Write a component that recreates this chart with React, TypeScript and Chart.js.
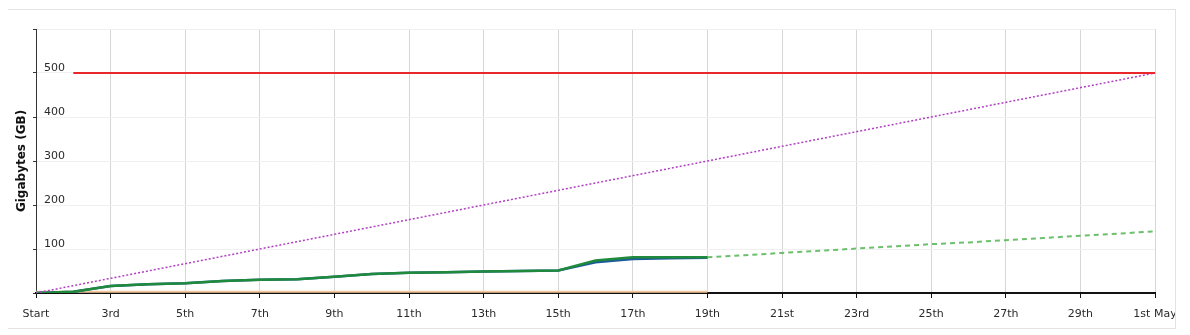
import React, { useEffect, useRef } from "react";
import { Chart, registerables } from "chart.js";

Chart.register(...registerables);

const categories = [
  "Start", "2nd", "3rd", "4th", "5th", "6th", "7th", "8th", "9th", "10th",
  "11th", "12th", "13th", "14th", "15th", "16th", "17th", "18th", "19th", "20th",
  "21st", "22nd", "23rd", "24th", "25th", "26th", "27th", "28th", "29th", "30th",
  "1st May",
];

const N = null;

const usageGreen = [0, 3, 16, 20, 22, 27, 30, 31, 37, 43, 46, 47, 49, 50, 51, 74, 81, 81, 81,
  N, N, N, N, N, N, N, N, N, N, N, N];
const usageBlue = [0, 3, 16, 20, 22, 27, 30, 31, 37, 43, 46, 47, 49, 50, 51, 70, 77, 79, 80,
  N, N, N, N, N, N, N, N, N, N, N, N];
const projection = [N, N, N, N, N, N, N, N, N, N, N, N, N, N, N, N, N, N,
  81, 86, 91, 96, 101, 106, 111, 115, 120, 125, 130, 135, 140];
const otherUsage = [3, 3, 3, 3, 3, 3, 3, 3, 3, 3, 3, 3, 3, 3, 3, 3, 3, 3, 3,
  N, N, N, N, N, N, N, N, N, N, N, N];
const allowance = [N, 500, 500, 500, 500, 500, 500, 500, 500, 500, 500, 500, 500, 500, 500, 500,
  500, 500, 500, 500, 500, 500, 500, 500, 500, 500, 500, 500, 500, 500, 500];
const target = [0, N, N, N, N, N, N, N, N, N, N, N, N, N, N, N, N, N, N, N, N, N, N, N, N, N, N, N, N, N, 500];

const yTicksShown = [100, 200, 300, 400, 500];

const FONT = "'DejaVu Sans', Verdana, sans-serif";

export default function App() {
  const ref = useRef<HTMLCanvasElement | null>(null);

  useEffect(() => {
    if (!ref.current) return;
    const chart = new Chart(ref.current, {
      type: "line",
      data: {
        labels: categories,
        datasets: [
          { label: "Allowance", data: allowance, borderColor: "#e8262b", borderWidth: 2, pointRadius: 0, spanGaps: false },
          { label: "Target", data: target, borderColor: "#b23ec4", borderWidth: 1.5, borderDash: [2, 2], pointRadius: 0, spanGaps: true },
          { label: "Usage", data: usageGreen, borderColor: "#1f8a3c", borderWidth: 2.5, pointRadius: 0 },
          { label: "Usage 2", data: usageBlue, borderColor: "#1c5a9c", borderWidth: 2.5, pointRadius: 0 },
          { label: "Projection", data: projection, borderColor: "#6cbf6c", borderWidth: 2, borderDash: [5, 4], pointRadius: 0 },
          { label: "Other", data: otherUsage, borderColor: "#f3c89c", borderWidth: 2, pointRadius: 0 },
        ],
      },
      options: {
        responsive: false,
        animation: false,
        layout: { padding: { top: 19, right: 20, bottom: 0, left: 0 } },
        plugins: { legend: { display: false }, tooltip: { enabled: false } },
        elements: { line: { tension: 0 } },
        scales: {
          x: {
            grid: {
              color: (ctx: any) => (ctx.index % 2 === 0 ? "#d6d6d6" : "rgba(0,0,0,0)"),
              tickColor: (ctx: any) => (ctx.index % 2 === 0 ? "#111" : "rgba(0,0,0,0)"),
              tickLength: 5,
              drawOnChartArea: true,
            },
            border: { color: "#111", width: 2 },
            ticks: {
              autoSkip: false,
              maxRotation: 0,
              padding: 10,
              color: "#2a2a2a",
              font: { family: FONT, size: 11 },
              callback: (_v: any, i: number) => (i % 2 === 0 ? categories[i] : ""),
            },
            afterFit: (s: any) => {
              s.height = 35;
              s.paddingLeft = 0;
              s.paddingRight = 0;
            },
          },
          y: {
            min: 0,
            max: 600,
            grid: { color: "#f0f0f0", tickColor: "#333", tickLength: 3 },
            border: { color: "#333", width: 1 },
            ticks: {
              stepSize: 100,
              mirror: true,
              padding: 8,
              labelOffset: -5,
              color: "#2a2a2a",
              font: { family: FONT, size: 11 },
              callback: (v: any) => (yTicksShown.includes(Number(v)) ? String(v) : ""),
            },
            title: {
              display: true,
              text: "Gigabytes (GB)",
              color: "#111",
              font: { family: FONT, size: 12, weight: "bold" },
              padding: { top: 7, bottom: 0 },
            },
            afterFit: (s: any) => {
              s.width = 28;
              s.paddingTop = 0;
              s.paddingBottom = 0;
            },
          },
        },
      },
    });
    return () => chart.destroy();
  }, []);

  return (
    <div
      style={{
        position: "relative",
        width: 1167,
        height: 318,
        border: "1px solid #e3e3e3",
        marginLeft: -1,
        marginTop: 1,
        background: "#fff",
      }}
    >
      <canvas ref={ref} width={1167} height={318} style={{ display: "block" }} />
    </div>
  );
}
